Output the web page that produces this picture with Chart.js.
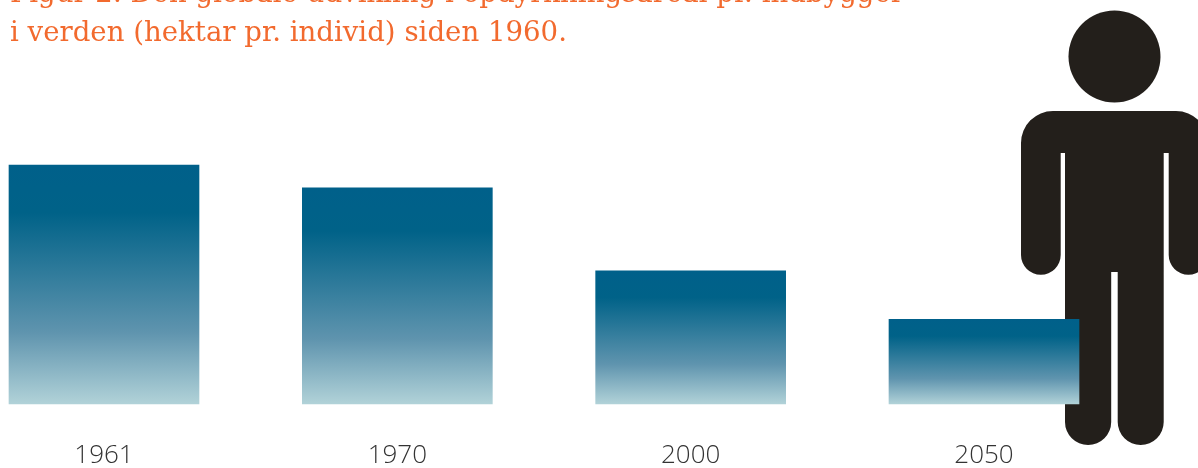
<!DOCTYPE html>
<html>
<head>
<meta charset="utf-8">
<script src="https://cdn.jsdelivr.net/npm/chart.js@4"></script>
<style>
html, body { margin: 0; padding: 0; background: #fff; overflow: hidden; }
#myChart { display: block; }
</style>
</head>
<body>
<canvas id="myChart" width="1198" height="468"></canvas>
<script>
const years = ['1961', '1970', '2000', '2050']
const hectares = [0.42, 0.38, 0.234, 0.149]
const titleLines = ['Figur 2. Den globale udvikling i opdyrkningsareal pr. indbygger', 'i verden (hektar pr. individ) siden 1960.']

// person figure, sits behind the bars
const person = {
  id: 'person',
  beforeDatasetsDraw(chart) {
    const c = chart.ctx
    c.save()
    c.fillStyle = '#231f1b'
    c.beginPath()
    c.arc(1114.5, 56.5, 46, 0, Math.PI * 2)
    c.fill()
    c.beginPath()
    c.moveTo(1021, 255)
    c.lineTo(1021, 143)
    c.arc(1053, 143, 32, Math.PI, Math.PI * 1.5)
    c.lineTo(1176, 111)
    c.arc(1176, 143, 32, Math.PI * 1.5, Math.PI * 2)
    c.lineTo(1208, 255)
    c.arc(1188.4, 255, 19.7, 0, Math.PI)
    c.lineTo(1168.7, 153)
    c.lineTo(1163.7, 153)
    c.lineTo(1163.7, 422)
    c.arc(1140.7, 422, 23, 0, Math.PI)
    c.lineTo(1117.7, 272)
    c.lineTo(1111.2, 272)
    c.lineTo(1111.2, 422)
    c.arc(1088.1, 422, 23.1, 0, Math.PI)
    c.lineTo(1065, 153)
    c.lineTo(1060.7, 153)
    c.lineTo(1060.7, 255)
    c.arc(1040.85, 255, 19.85, 0, Math.PI)
    c.closePath()
    c.fill()
    c.restore()
  }
}

const titleText = {
  id: 'titleText',
  afterDraw(chart) {
    const c = chart.ctx
    c.save()
    c.fillStyle = '#f26a2e'
    c.font = '27.6px "DejaVu Serif"'
    c.textBaseline = 'alphabetic'
    c.fillText(titleLines[0], 10, 2)
    c.fillText(titleLines[1], 10, 41)
    c.restore()
  }
}

function barFill(context) {
  const { ctx, chartArea, scales } = context.chart
  if (!chartArea || context.raw === undefined) return '#00608a'
  const g = ctx.createLinearGradient(0, scales.y.getPixelForValue(context.raw), 0, scales.y.getPixelForValue(0))
  g.addColorStop(0, '#00608a')
  g.addColorStop(0.2, '#006288')
  g.addColorStop(0.7, '#5f94ae')
  g.addColorStop(1, '#b1d2d8')
  return g
}

new Chart(document.getElementById('myChart'), {
  type: 'bar',
  data: {
    labels: years,
    datasets: [{
      data: hectares,
      backgroundColor: barFill,
      barThickness: 190,
      borderWidth: 0,
      clip: false
    }]
  },
  options: {
    responsive: false,
    animation: false,
    layout: { padding: { left: 104, right: 214, top: 165, bottom: 0 } },
    plugins: { legend: { display: false }, tooltip: { enabled: false } },
    scales: {
      x: {
        offset: false,
        grid: { display: false },
        border: { display: false },
        afterFit(scale) { scale.height = 64 },
        ticks: {
          color: '#333333',
          autoSkip: false,
          maxRotation: 0,
          font: { family: 'Open Sans', size: 26, weight: '300' },
          padding: 28
        }
      },
      y: { display: false, min: 0, max: 0.42 }
    }
  },
  plugins: [person, titleText]
})
</script>
</body>
</html>
